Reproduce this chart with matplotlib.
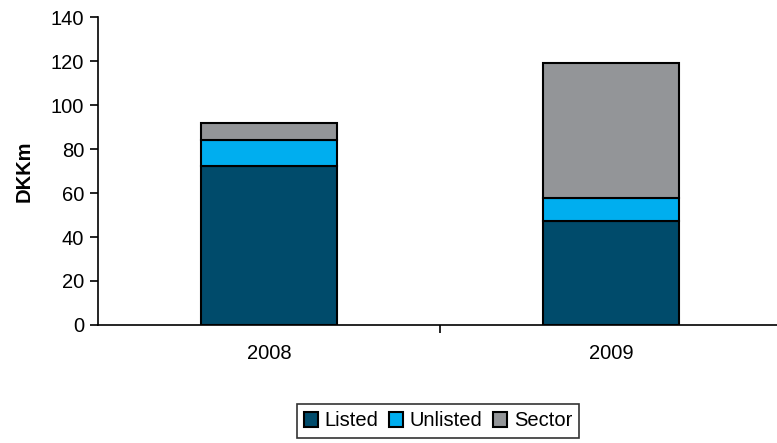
import numpy as np
import matplotlib
matplotlib.use("Agg")
import matplotlib.pyplot as plt

plt.rcParams['font.family'] = ['Liberation Sans', 'DejaVu Sans']

years = ["2008", "2009"]
listed = [72.3, 47.3]
unlisted = [11.8, 10.4]
sector = [7.7, 61.4]

colors = {"Listed": "#004b6b", "Unlisted": "#00aeef", "Sector": "#939598"}
fs = 14.5

fig = plt.figure(figsize=(7.77, 4.43), dpi=100)
ax = fig.add_axes([98 / 777, 118 / 443, 684 / 777, 308 / 443])

x = np.arange(len(years))
width = 0.4
bottom = np.zeros(len(years))
for name, vals in [("Listed", listed), ("Unlisted", unlisted), ("Sector", sector)]:
    ax.bar(x, vals, width, bottom=bottom, color=colors[name], edgecolor="black",
           linewidth=1.5, label=name)
    bottom += np.array(vals)

ax.set_xlim(-0.5, 1.5)
ax.set_ylim(0, 140)
ax.set_yticks(np.arange(0, 141, 20))
ax.set_xticks(x)
ax.set_xticklabels(years)
ax.set_xticks([0.5], minor=True)
ax.tick_params(axis="x", which="major", length=0, pad=14, labelsize=fs)
ax.tick_params(axis="x", which="minor", length=6, width=1.2, direction="out")
ax.tick_params(axis="y", length=6, width=1.2, direction="out", labelsize=fs, pad=4)

ax.spines["top"].set_visible(False)
ax.spines["right"].set_visible(False)
ax.spines["left"].set_linewidth(1.2)
ax.spines["bottom"].set_linewidth(1.2)

ax.set_ylabel("DKKm", fontsize=fs, fontweight="bold", labelpad=12)

leg = fig.legend(loc="center", bbox_to_anchor=(438 / 777, 1 - 421 / 443), ncol=3,
                 fontsize=fs, frameon=True, fancybox=False, edgecolor="black",
                 handlelength=0.7, handleheight=0.7, handletextpad=0.35,
                 columnspacing=0.5, borderpad=0.35, borderaxespad=0)
leg.get_frame().set_linewidth(1.2)

fig.savefig("out.png", dpi=100)
